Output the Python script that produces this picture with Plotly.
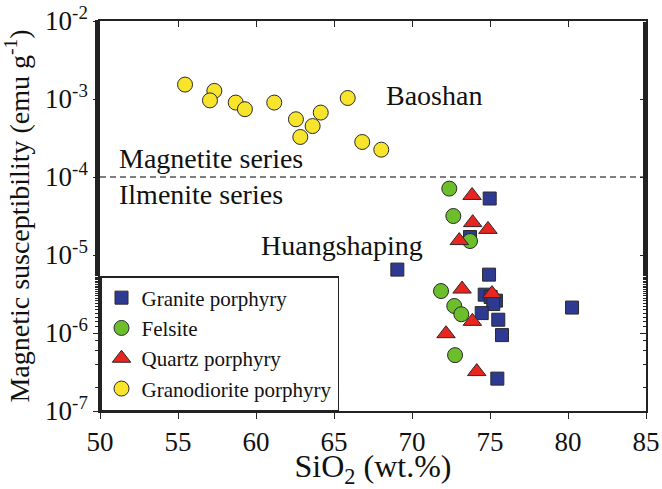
import plotly.graph_objects as go

# ---------------- data ----------------
granite_sio2 = [69.06, 74.98, 73.72, 74.94, 74.66, 75.04, 75.38, 75.21, 74.47, 75.53, 75.77, 75.47, 80.26]
granite_ms = [6.5e-6, 5.3e-5, 1.7e-5, 5.6e-6, 3.1e-6, 2.9e-6, 2.6e-6, 2.35e-6, 1.8e-6, 1.48e-6, 9.4e-7, 2.6e-7, 2.12e-6]

felsite_sio2 = [72.39, 72.65, 73.72, 71.86, 72.71, 73.16, 72.76]
felsite_ms = [7.1e-5, 3.16e-5, 1.51e-5, 3.45e-6, 2.22e-6, 1.74e-6, 5.2e-7]

quartz_sio2 = [73.85, 73.89, 74.87, 73.03, 73.21, 75.13, 73.87, 72.18, 74.15]
quartz_ms = [5.8e-5, 2.6e-5, 2.13e-5, 1.53e-5, 3.66e-6, 3.2e-6, 1.41e-6, 9.8e-7, 3.2e-7]

grano_sio2 = [55.45, 57.33, 57.05, 58.70, 59.29, 61.17, 62.56, 64.15, 63.63, 62.84, 65.88, 66.81, 68.03]
grano_ms = [1.53e-3, 1.27e-3, 9.6e-4, 9.0e-4, 7.4e-4, 9.0e-4, 5.5e-4, 6.7e-4, 4.5e-4, 3.26e-4, 1.03e-3, 2.81e-4, 2.24e-4]

series_boundary = 1e-4

x_ticks = [50, 55, 60, 65, 70, 75, 80, 85]
y_tick_vals = [1e-7, 1e-6, 1e-5, 1e-4, 1e-3, 1e-2]
y_tick_text = ["10<sup>-7</sup>", "10<sup>-6</sup>", "10<sup>-5</sup>", "10<sup>-4</sup>",
               "10<sup>-3</sup>", "10<sup>-2</sup>"]

FONT = "Liberation Serif, Times New Roman, serif"
LINE = dict(color="#2a2a2a", width=1)

fig = go.Figure()
# magnetite / ilmenite series boundary (dashed)
fig.add_trace(go.Scatter(x=[x_ticks[0], x_ticks[-1]], y=[series_boundary, series_boundary],
                         mode="lines", showlegend=False, hoverinfo="skip", cliponaxis=False,
                         line=dict(color="#555555", width=1.3, dash="6px,4px")))
fig.add_trace(go.Scatter(x=granite_sio2, y=granite_ms, mode="markers", name="Granite porphyry",
                         marker=dict(symbol="square", size=13, color="#2E3A91", line=LINE)))
fig.add_trace(go.Scatter(x=felsite_sio2, y=felsite_ms, mode="markers", name="Felsite",
                         marker=dict(symbol="circle", size=15, color="#6CBF2A", line=LINE)))
fig.add_trace(go.Scatter(x=quartz_sio2, y=quartz_ms, mode="markers", name="Quartz porphyry",
                         marker=dict(symbol="triangle-up", size=16, color="#E8251F", line=LINE)))
fig.add_trace(go.Scatter(x=grano_sio2, y=grano_ms, mode="markers", name="Granodiorite porphyry",
                         marker=dict(symbol="circle", size=15, color="#F8E42A", line=LINE)))
# empty trace to carry the mirrored (inward-tick) axes
fig.add_trace(go.Scatter(x=[], y=[], xaxis="x2", yaxis="y2", showlegend=False, hoverinfo="skip"))

ann_font = dict(family=FONT, size=28, color="#111111")
fig.add_annotation(text="Baoshan", x=71.4, y=-2.95, xref="x", yref="y", showarrow=False,
                   xanchor="center", yanchor="middle", font=ann_font)
fig.add_annotation(text="Magnetite series", x=51.1, y=-3.76, xref="x", yref="y", showarrow=False,
                   xanchor="left", yanchor="middle", font=ann_font)
fig.add_annotation(text="Ilmenite series", x=51.1, y=-4.23, xref="x", yref="y", showarrow=False,
                   xanchor="left", yanchor="middle", font=ann_font)
fig.add_annotation(text="Huangshaping", x=65.5, y=-4.88, xref="x", yref="y", showarrow=False,
                   xanchor="center", yanchor="middle", font=ann_font)

axis_common = dict(showgrid=False, zeroline=False, linecolor="#222222", linewidth=1.5,
                   tickcolor="#222222", tickwidth=1.3, automargin=False)

fig.update_layout(
    width=662, height=489,
    margin=dict(l=100, r=16, t=21, b=78),
    paper_bgcolor="white", plot_bgcolor="white",
    font=dict(family=FONT, size=27, color="#111111"),
    showlegend=True,
    legend=dict(x=0, y=0, xanchor="left", yanchor="bottom", bgcolor="white",
                bordercolor="#222222", borderwidth=1.5,
                font=dict(family=FONT, size=21, color="#111111"),
                itemsizing="trace", tracegroupgap=0),
    xaxis=dict(range=[50, 85], tickvals=x_ticks, ticks="outside", ticklen=6, mirror=True,
               showline=True, title=dict(text="SiO<sub>2</sub> (wt.%)", standoff=14),
               tickfont=dict(size=27), **axis_common),
    yaxis=dict(type="log", range=[-7, -2], tickvals=y_tick_vals, ticktext=y_tick_text,
               ticks="outside", ticklen=5, mirror=True, showline=True,
               minor=dict(ticks="outside", ticklen=3, tickcolor="#222222", showgrid=False),
               title=dict(text="Magnetic susceptibility (emu g<sup>-1</sup>)", standoff=10,
                          font=dict(size=28)),
               tickfont=dict(size=27), **axis_common),
    xaxis2=dict(range=[50, 85], tickvals=x_ticks, overlaying="x", side="top", anchor="y",
                ticks="inside", ticklen=6, showticklabels=False, showline=False, automargin=False,
                showgrid=False, zeroline=False, tickcolor="#222222", tickwidth=1.3),
    yaxis2=dict(type="log", range=[-7, -2], tickvals=y_tick_vals, overlaying="y", side="right",
                anchor="x", ticks="inside", ticklen=6, showticklabels=False, showline=False,
                automargin=False,
                minor=dict(ticks="inside", ticklen=3, tickcolor="#222222", showgrid=False),
                showgrid=False, zeroline=False, tickcolor="#222222", tickwidth=1.3),
)

fig.write_html("out.html")
